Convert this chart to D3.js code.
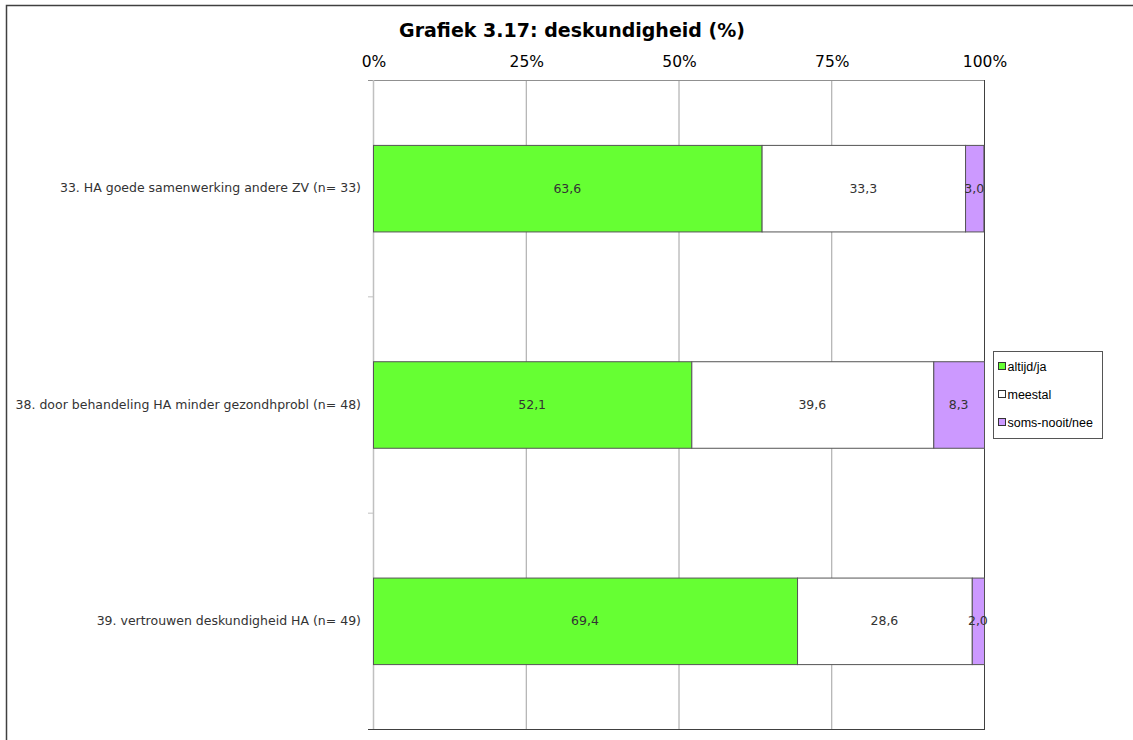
<!DOCTYPE html>
<html>
<head>
<meta charset="utf-8">
<script src="https://cdn.jsdelivr.net/npm/d3@7"></script>
<style>
  html, body { margin: 0; padding: 0; background: #fff; }
  svg { display: block; }
</style>
</head>
<body>
<svg id="chart" width="1133" height="740"></svg>
<script>
// Survey items (top to bottom)
const categories = [
  "33. HA goede samenwerking andere ZV (n= 33)",
  "38. door behandeling HA minder gezondhprobl (n= 48)",
  "39. vertrouwen deskundigheid HA (n= 49)"
];
// Answer shares per item (%)
const seriesNames = ["altijd/ja", "meestal", "soms-nooit/nee"];
const altijdJa = [63.6, 52.1, 69.4];
const meestal = [33.3, 39.6, 28.6];
const somsNooitNee = [3.0, 8.3, 2.0];
const seriesValues = [altijdJa, meestal, somsNooitNee];
const seriesColors = ["#66ff33", "#ffffff", "#cc99ff"];
const tickValues = [0, 25, 50, 75, 100];

const svg = d3.select("#chart");

// outer chart frame
svg.append("path")
  .attr("d", "M6.5,740 L6.5,5.5 L1133,5.5")
  .attr("fill", "none").attr("stroke", "#404040").attr("stroke-width", 1.5);

const plot = { left: 373, right: 984, top: 80, bottom: 729 };

const x = d3.scaleLinear().domain([0, 100]).range([plot.left, plot.right]);
const y = d3.scaleBand().domain(categories).range([plot.top, plot.bottom]).padding(0);
const barFrac = 0.4;

// title
svg.append("text")
  .attr("x", 572).attr("y", 37)
  .attr("text-anchor", "middle")
  .attr("font-family", "DejaVu Sans, Verdana, sans-serif")
  .attr("font-weight", "bold").attr("font-size", 19)
  .attr("fill", "#000")
  .text("Grafiek 3.17: deskundigheid (%)");

// vertical gridlines
svg.append("g").selectAll("line")
  .data(tickValues.slice(1, -1))
  .join("line")
  .attr("x1", d => x(d) + 0.5).attr("x2", d => x(d) + 0.5)
  .attr("y1", plot.top).attr("y2", plot.bottom)
  .attr("stroke", "#a0a0a0").attr("stroke-width", 1);

// top axis with percent labels
const topAxis = d3.axisTop(x).tickValues(tickValues).tickFormat(d => d + "%").tickSize(0).tickPadding(14);
const gTop = svg.append("g").attr("transform", `translate(0.5,${plot.top + 0.5})`).call(topAxis);
gTop.select(".domain").remove();
gTop.selectAll("text")
  .attr("font-family", "DejaVu Sans, Verdana, sans-serif")
  .attr("font-size", 15.5).attr("fill", "#000");
svg.append("line")
  .attr("x1", plot.left - 5).attr("x2", plot.right)
  .attr("y1", plot.top + 0.5).attr("y2", plot.top + 0.5)
  .attr("stroke", "#909090");

// left category axis
const leftAxis = d3.axisLeft(y).tickSize(0).tickPadding(12);
const gLeft = svg.append("g").attr("transform", `translate(${plot.left},0)`).call(leftAxis);
gLeft.select(".domain").remove();
gLeft.selectAll("text")
  .attr("font-family", "DejaVu Sans, Verdana, sans-serif")
  .attr("font-size", 12.5).attr("fill", "#333");
svg.append("line")
  .attr("x1", plot.left + 0.5).attr("x2", plot.left + 0.5)
  .attr("y1", plot.top).attr("y2", plot.bottom)
  .attr("stroke", "#c0c0c0").attr("stroke-width", 1.5);
// band boundary ticks
svg.append("g").selectAll("line")
  .data(categories.slice(1))
  .join("line")
  .attr("x1", plot.left - 5).attr("x2", plot.left)
  .attr("y1", d => y(d) + 0.5).attr("y2", d => y(d) + 0.5)
  .attr("stroke", "#c0c0c0");

// right and bottom frame of plot area
svg.append("line")
  .attr("x1", plot.right + 0.5).attr("x2", plot.right + 0.5)
  .attr("y1", plot.top).attr("y2", plot.bottom)
  .attr("stroke", "#404040");
svg.append("line")
  .attr("x1", plot.left - 5).attr("x2", plot.right + 1)
  .attr("y1", plot.bottom + 0.5).attr("y2", plot.bottom + 0.5)
  .attr("stroke", "#404040");

// stacked segments
const rows = categories.map((c, i) => {
  let acc = 0;
  return seriesValues.map((vals, s) => {
    const seg = { cat: c, s, v: vals[i], x0: acc, x1: acc + vals[i] };
    acc += vals[i];
    return seg;
  });
}).flat();

const barY = c => y(c) + y.bandwidth() * (1 - barFrac) / 2;
const barH = y.bandwidth() * barFrac;

svg.append("g").selectAll("rect")
  .data(rows)
  .join("rect")
  .attr("x", d => x(d.x0) + 0.5)
  .attr("y", d => barY(d.cat) + 0.5)
  .attr("width", d => x(d.x1) - x(d.x0))
  .attr("height", barH)
  .attr("fill", d => seriesColors[d.s])
  .attr("stroke", "#555").attr("stroke-width", 1);

svg.append("g").selectAll("text")
  .data(rows)
  .join("text")
  .attr("x", d => (x(d.x0) + x(d.x1)) / 2)
  .attr("y", d => barY(d.cat) + barH / 2 + 4.5)
  .attr("text-anchor", "middle")
  .attr("font-family", "DejaVu Sans, Verdana, sans-serif")
  .attr("font-size", 12.5).attr("fill", "#333")
  .text(d => d3.format(".1f")(d.v).replace(".", ","));

// legend
const lg = svg.append("g").attr("transform", "translate(993.5,351.5)");
lg.append("rect").attr("width", 109).attr("height", 87)
  .attr("fill", "#fff").attr("stroke", "#555");
const li = lg.selectAll("g").data(seriesNames).join("g")
  .attr("transform", (d, i) => `translate(5,${15 + i * 28})`);
li.append("rect").attr("x", 0).attr("y", -4).attr("width", 7).attr("height", 7)
  .attr("fill", (d, i) => seriesColors[i]).attr("stroke", "#333");
li.append("text").attr("x", 9).attr("y", 4)
  .attr("font-family", "Liberation Sans, Arial, sans-serif")
  .attr("font-size", 12.5).attr("fill", "#000")
  .text(d => d);
</script>
</body>
</html>
